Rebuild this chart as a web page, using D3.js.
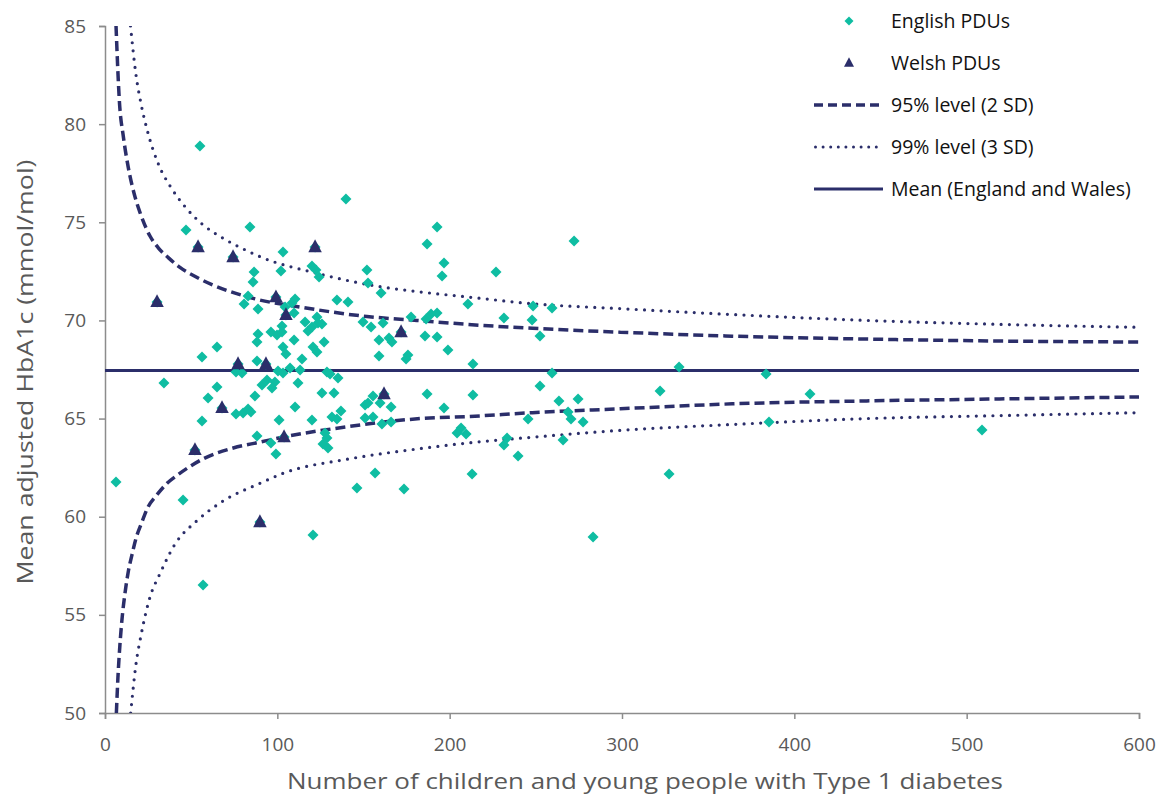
<!DOCTYPE html>
<html>
<head>
<meta charset="utf-8">
<script src="https://cdn.jsdelivr.net/npm/d3@7"></script>
<style>
  body { margin: 0; background: #fff; }
  svg { display: block; font-family: "Open Sans", sans-serif; }
</style>
</head>
<body>
<div id="chart"></div>
<script>
// English PDUs: number of CYP with T1D, mean adjusted HbA1c
var englishN = [55.1, 47.0, 84.1, 86.5, 6.4, 45.3, 56.9, 56.3, 34.2, 59.8, 56.3, 88.2, 65.0, 65.0,
  103.3, 102.1, 85.9, 120.1, 83.0, 80.7, 88.8, 110.3, 104.5, 109.7, 88.8, 88.2, 96.3, 99.8, 102.7,
  102.7, 109.7, 116.1, 117.8, 120.1, 103.3, 105.0, 88.2, 114.3, 120.7, 76.0, 79.5, 100.4, 103.3,
  107.4, 113.2, 94.0, 91.1, 98.6, 96.9, 112.0, 87.0, 76.0, 80.1, 83.0, 84.7, 110.3, 101.0, 120.1,
  108.5, 139.8, 122.4, 124.2, 152.0, 152.6, 160.2, 134.6, 141.0, 177.6, 123.0, 123.6, 125.9, 149.7,
  154.4, 161.3, 127.1, 123.0, 159.0, 164.8, 166.5, 159.0, 175.8, 174.7, 128.8, 130.6, 135.2, 125.9,
  132.9, 155.5, 159.6, 166.0, 150.9, 152.6, 136.9, 131.7, 134.6, 150.9, 155.5, 160.7, 166.0, 96.3,
  99.2, 127.7, 128.8, 126.5, 129.4, 156.7, 146.2, 173.5, 120.7, 192.7, 186.9, 196.7, 195.6, 226.9,
  272.2, 210.6, 186.3, 189.2, 192.7, 231.5, 247.8, 248.4, 259.4, 185.7, 192.7, 252.4, 199.0, 213.5,
  259.4, 252.4, 186.9, 213.5, 196.7, 263.4, 274.5, 268.7, 270.4, 277.4, 245.5, 206.6, 204.3, 209.5,
  233.3, 231.5, 265.8, 239.7, 213.0, 283.2, 333.1, 383.6, 322.1, 409.1, 385.3, 508.9, 327.3];
var englishHbA1c = [78.89, 74.61, 74.76, 72.47, 61.77, 60.85, 56.52, 68.14, 66.81, 66.05, 64.88, 64.11, 68.65, 66.61,
  73.49, 72.52, 71.96, 72.77, 71.24, 70.84, 70.58, 71.09, 70.68, 70.38, 69.31, 68.90, 69.41, 69.26, 69.72,
  69.41, 69.00, 69.92, 69.46, 69.67, 68.65, 68.29, 67.93, 68.04, 68.65, 67.37, 67.32, 67.42, 67.32,
  67.58, 67.47, 66.97, 66.71, 66.86, 66.56, 66.81, 66.15, 65.23, 65.28, 65.49, 65.34, 65.59, 64.93, 64.93,
  70.89, 76.19, 72.57, 72.21, 72.57, 71.91, 71.40, 71.04, 70.94, 70.17, 70.17, 69.87, 69.82, 69.92,
  69.67, 69.87, 68.90, 68.39, 69.00, 69.11, 68.90, 68.19, 68.24, 68.04, 67.37, 67.27, 67.07, 66.30,
  66.30, 66.15, 65.79, 65.59, 65.69, 65.79, 65.39, 65.08, 64.98, 65.03, 65.08, 64.72, 64.83, 63.76,
  63.20, 64.27, 64.01, 63.70, 63.50, 62.23, 61.46, 61.41, 59.07, 74.76, 73.89, 72.93, 72.26, 72.47,
  74.05, 70.84, 70.07, 70.33, 70.38, 70.12, 70.02, 70.74, 70.63, 69.21, 69.16, 69.21, 68.49, 67.78,
  67.32, 66.66, 66.25, 66.20, 65.54, 65.90, 66.00, 65.34, 64.98, 64.83, 64.98, 64.52, 64.27, 64.21,
  64.01, 63.65, 63.91, 63.09, 62.18, 58.97, 67.63, 67.27, 66.41, 66.25, 64.83, 64.42, 62.18];

// Welsh PDUs
var welshN = [30.2, 54.0, 74.3, 121.9, 99.2, 105.0, 77.2, 93.4, 67.9, 52.2, 89.9, 171.8, 161.9, 103.9];
var welshHbA1c = [70.94, 73.74, 73.23, 73.74, 71.19, 70.28, 67.78, 67.78, 65.54, 63.40, 59.73, 69.41, 66.25, 64.06];

// England and Wales mean
var meanHbA1c = 67.45;

// control limits, [n, HbA1c]
var upper95 = [[6.4, 85.0], [8.4, 81.1], [10.6, 79.4], [13.5, 77.8], [17.4, 76.3], [20.3, 75.5], [26.1, 74.3],
  [30.9, 73.7], [36.7, 73.2], [43.5, 72.7], [53.2, 72.2], [87, 71.1], [112, 70.7], [152, 70.2], [181, 70.0],
  [210, 69.8], [248, 69.6], [299, 69.4], [364, 69.2], [442, 69.05], [519, 68.95], [600, 68.9]];
var lower95 = [[6.6, 50.0], [7.5, 51.8], [8.6, 53.4], [10, 54.9], [11.6, 56.1], [13.5, 57.2], [15.5, 58.0],
  [18, 58.9], [21.3, 59.7], [25, 60.5], [30, 61.1], [36, 61.7], [42.5, 62.15], [50, 62.6], [57, 62.95],
  [74.4, 63.5], [89.9, 63.8], [103, 64.05], [142, 64.6], [183, 65.0], [210, 65.1], [248, 65.3],
  [299, 65.5], [364, 65.75], [442, 65.9], [519, 66.0], [600, 66.1]];
var upper99 = [[14.8, 85.0], [18, 82.5], [21, 81.0], [25.1, 79.5], [31.3, 77.9], [38.1, 76.8], [46.4, 75.8],
  [56.5, 74.9], [68.3, 74.2], [81.2, 73.6], [89.9, 73.25], [123, 72.4], [161, 71.7], [183, 71.45], [210, 71.2],
  [248, 70.85], [299, 70.6], [364, 70.3], [442, 70.0], [519, 69.8], [600, 69.65]];
var lower99 = [[14.9, 50.0], [18, 52.5], [21, 54.0], [26.1, 55.9], [31.9, 57.1], [40.6, 58.6], [53.4, 59.8],
  [68.5, 60.8], [89.9, 61.7], [103, 62.2], [142, 62.95], [181, 63.45], [210, 63.75], [248, 64.05], [299, 64.4],
  [364, 64.7], [442, 65.0], [519, 65.15], [600, 65.3]];

var xTicks = [0, 100, 200, 300, 400, 500, 600];
var yTicks = [50, 55, 60, 65, 70, 75, 80, 85];

var legendItems = [
  {label: "English PDUs", type: "diamond"},
  {label: "Welsh PDUs", type: "triangle"},
  {label: "95% level (2 SD)", type: "dash"},
  {label: "99% level (3 SD)", type: "dot"},
  {label: "Mean (England and Wales)", type: "solid"}
];

var svgWidth = 1159;
var svgHeight = 796;
var margin = {top: 26, right: 20, bottom: 83, left: 105};
var width = svgWidth - margin.left - margin.right;
var height = svgHeight - margin.top - margin.bottom;

var navy = "#2b2e6a";
var teal = "#0fbda2";
var axisGrey = "#8c8c8c";
var textGrey = "#595959";

var svg = d3.select("#chart")
  .append("svg")
  .attr("width", svgWidth)
  .attr("height", svgHeight);

var chartGroup = svg.append("g")
  .attr("transform", `translate(${margin.left}, ${margin.top})`);

var xScale = d3.scaleLinear().domain([0, 600]).range([0, width]);
var yScale = d3.scaleLinear().domain([50, 85]).range([height, 0]);

// axes
var xAxis = chartGroup.append("g")
  .attr("transform", `translate(0, ${height})`)
  .call(d3.axisBottom(xScale).tickValues(xTicks).tickSizeOuter(0).tickSize(6).tickPadding(19));
var yAxis = chartGroup.append("g")
  .call(d3.axisLeft(yScale).tickValues(yTicks).tickSizeOuter(0).tickSize(6).tickPadding(13));

[xAxis, yAxis].forEach(function(ax) {
  ax.select(".domain").attr("stroke", axisGrey).attr("stroke-width", 1.5);
  ax.selectAll(".tick line").attr("stroke", axisGrey).attr("stroke-width", 1.5);
  ax.selectAll(".tick text")
    .attr("fill", textGrey)
    .style("font-family", "Open Sans, sans-serif")
    .style("font-size", "19px");
});

// clip for the funnel lines
chartGroup.append("clipPath").attr("id", "plotClip")
  .append("rect").attr("x", 0).attr("y", 0).attr("width", width).attr("height", height);

var limitLine = d3.line()
  .x(d => xScale(d[0]))
  .y(d => yScale(d[1]))
  .curve(d3.curveMonotoneX);

var lines = chartGroup.append("g").attr("clip-path", "url(#plotClip)");

[upper95, lower95].forEach(function(series) {
  lines.append("path")
    .attr("d", limitLine(series))
    .attr("fill", "none")
    .attr("stroke", navy)
    .attr("stroke-width", 3.5)
    .attr("stroke-dasharray", "10,5");
});

[upper99, lower99].forEach(function(series) {
  lines.append("path")
    .attr("d", limitLine(series))
    .attr("fill", "none")
    .attr("stroke", navy)
    .attr("stroke-width", 3.2)
    .attr("stroke-linecap", "round")
    .attr("stroke-dasharray", "0,8.3");
});

lines.append("line")
  .attr("x1", xScale(0)).attr("x2", xScale(600))
  .attr("y1", yScale(meanHbA1c)).attr("y2", yScale(meanHbA1c))
  .attr("stroke", navy)
  .attr("stroke-width", 3);

// markers
function diamondPath(h) {
  return `M0,${-h}L${h},0L0,${h}L${-h},0Z`;
}
function trianglePath(w) {
  var h = w * 0.95;
  return `M0,${-h * 0.6}L${w / 2},${h * 0.4}L${-w / 2},${h * 0.4}Z`;
}

var englishData = englishN.map((n, i) => ({n: n, v: englishHbA1c[i]}));
var welshData = welshN.map((n, i) => ({n: n, v: welshHbA1c[i]}));

chartGroup.selectAll(".english")
  .data(englishData.concat(welshData))
  .enter()
  .append("path")
  .attr("class", "english")
  .attr("d", diamondPath(5.5))
  .attr("transform", d => `translate(${xScale(d.n)}, ${yScale(d.v)})`)
  .attr("fill", teal);

chartGroup.selectAll(".welsh")
  .data(welshData)
  .enter()
  .append("path")
  .attr("class", "welsh")
  .attr("d", trianglePath(13.5))
  .attr("transform", d => `translate(${xScale(d.n)}, ${yScale(d.v)})`)
  .attr("fill", navy);

// axis titles
svg.append("text")
  .attr("transform", `translate(27, 372) rotate(-90)`)
  .attr("text-anchor", "middle")
  .attr("dominant-baseline", "middle")
  .attr("fill", textGrey)
  .attr("textLength", 425)
  .attr("lengthAdjust", "spacingAndGlyphs")
  .style("font-size", "22px")
  .text("Mean adjusted HbA1c (mmol/mol)");

svg.append("text")
  .attr("x", 645)
  .attr("y", 789)
  .attr("text-anchor", "middle")
  .attr("fill", textGrey)
  .attr("textLength", 716)
  .attr("lengthAdjust", "spacingAndGlyphs")
  .style("font-size", "22px")
  .text("Number of children and young people with Type 1 diabetes");

// legend
var legend = svg.append("g").attr("transform", "translate(814, 21)");
var rows = legend.selectAll("g")
  .data(legendItems)
  .enter()
  .append("g")
  .attr("transform", (d, i) => `translate(0, ${i * 42})`);

rows.each(function(d) {
  var g = d3.select(this);
  if (d.type === "diamond") {
    g.append("path").attr("d", diamondPath(4.5)).attr("transform", "translate(35, 0)").attr("fill", teal);
  } else if (d.type === "triangle") {
    g.append("path").attr("d", trianglePath(10)).attr("transform", "translate(35, 0)").attr("fill", navy);
  } else {
    var ln = g.append("line").attr("x1", 0).attr("x2", 69).attr("y1", 0).attr("y2", 0)
      .attr("stroke", navy);
    if (d.type === "dash") ln.attr("stroke-width", 3.5).attr("stroke-dasharray", "9,5");
    if (d.type === "dot") ln.attr("stroke-width", 3).attr("stroke-linecap", "round").attr("stroke-dasharray", "0,7.6").attr("x1", 1.5);
    if (d.type === "solid") ln.attr("stroke-width", 3);
  }
  g.append("text")
    .attr("x", 77)
    .attr("y", 0)
    .attr("dy", "0.35em")
    .attr("fill", "#111")
    .style("font-size", "19.5px")
    .text(d.label);
});
</script>
</body>
</html>
